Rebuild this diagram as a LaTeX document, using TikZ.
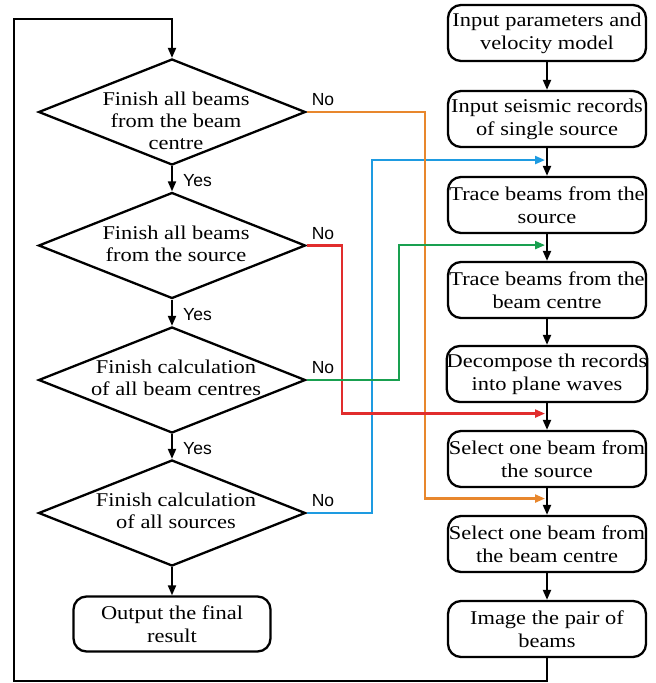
\documentclass[tikz,border=0pt]{standalone}
\usepackage{fontspec}
\setmainfont[FakeStretch=1.15]{Liberation Serif}
\newfontfamily\labfont{Liberation Sans}
\usetikzlibrary{shapes.geometric,arrows.meta,calc}
\definecolor{corange}{RGB}{232,135,45}
\definecolor{cblue}{RGB}{30,155,225}
\definecolor{cred}{RGB}{225,45,45}
\definecolor{cgreen}{RGB}{25,160,80}
\tikzset{
  box/.style={draw, line width=2.3pt, rounded corners=13pt, minimum width=198pt, minimum height=56pt, align=center, font=\fontsize{19.5}{23}\selectfont, inner sep=0pt},
  dia/.style={draw, diamond, line width=2.3pt, minimum width=267pt, minimum height=106pt, inner sep=0pt},
  dtext/.style={align=center, font=\fontsize{19.5}{21.7}\selectfont, inner sep=0pt},
  lab/.style={font=\labfont\fontsize{17.5}{20}\selectfont, inner sep=0pt},
  arr/.style={line width=2pt, -{Triangle[length=10pt,width=8pt]}},
  carr/.style={line width=2.2pt, -{Triangle[length=10pt,width=8pt]}}
}
\begin{document}
\begin{tikzpicture}[x=1pt,y=-1pt]
\useasboundingbox (0,0) rectangle (656,683);
% right column
\node[box] (b1) at (547,33) {Input parameters and\\velocity model};
\node[box] (b2) at (547,119) {Input seismic records\\of single source};
\node[box] (b3) at (547,205) {Trace beams from the\\source};
\node[box] (b4) at (547,290) {Trace beams from the\\beam centre};
\node[box] (b5) at (547,374) {Decompose th records\\into plane waves};
\node[box] (b6) at (547,459) {Select one beam from\\the source};
\node[box] (b7) at (547,544) {Select one beam from\\the beam centre};
\node[box] (b8) at (547,629) {Image the pair of\\beams};
\foreach \a/\b in {b1/b2,b2/b3,b3/b4,b4/b5,b5/b6,b6/b7,b7/b8}
  \draw[arr] (\a.south) -- (\b.north);
% left column
\node[dia] (d1) at (172,112) {};
\node[dtext] (t1) at (176,121) {Finish all beams\\from the beam\\centre};
\node[dia] (d2) at (172,245.5) {};
\node[dtext] (t2) at (176,244) {Finish all beams\\from the source};
\node[dia] (d3) at (172,380) {};
\node[dtext] (t3) at (176,378) {Finish calculation\\of all beam centres};
\node[dia] (d4) at (172,513) {};
\node[dtext] (t4) at (176,511) {Finish calculation\\of all sources};
\node[box, minimum width=197pt, minimum height=55pt] (out) at (172,624) {Output the final\\result};
\draw[arr] (d1.south) -- (d2.north);
\draw[arr] (d2.south) -- (d3.north);
\draw[arr] (d3.south) -- (d4.north);
\draw[arr] (d4.south) -- (out.north);
\node[lab, anchor=west] (y1) at ($(d1.south)!0.5!(d2.north)+(11,2)$) {Yes};
\node[lab, anchor=west] (y2) at ($(d2.south)!0.5!(d3.north)+(11,2)$) {Yes};
\node[lab, anchor=west] (y3) at ($(d3.south)!0.5!(d4.north)+(11,2)$) {Yes};
\node[lab, anchor=west] (n1) at ($(d1.east)+(5,-12)$) {No};
\node[lab, anchor=west] (n2) at ($(d2.east)+(5,-12)$) {No};
\node[lab, anchor=west] (n3) at ($(d3.east)+(5,-12)$) {No};
\node[lab, anchor=west] (n4) at ($(d4.east)+(5,-12)$) {No};
% coloured connectors
\coordinate (tb) at ($(b2.south)!0.43!(b3.north)+(-2,0)$);
\coordinate (tg) at ($(b3.south)!0.41!(b4.north)+(-2,0)$);
\coordinate (tr) at ($(b5.south)!0.39!(b6.north)+(-2,0)$);
\coordinate (to) at ($(b6.south)!0.39!(b7.north)+(-2,0)$);
\draw[carr, cblue] (d4.east) -- ++(65,0) |- (tb);
\draw[carr, corange] (d1.east) -- ++(118,0) |- (to);
\draw[carr, cred] (d2.east) -- ++(35,0) |- (tr);
\draw[carr, cgreen] (d3.east) -- ++(92,0) |- (tg);
% loop back
\coordinate (c1) at (14,681);
\coordinate (c2) at (14,19);
\draw[arr] (b8.south) |- (c1) -- (c2) -| (d1.north);
\end{tikzpicture}
\end{document}
